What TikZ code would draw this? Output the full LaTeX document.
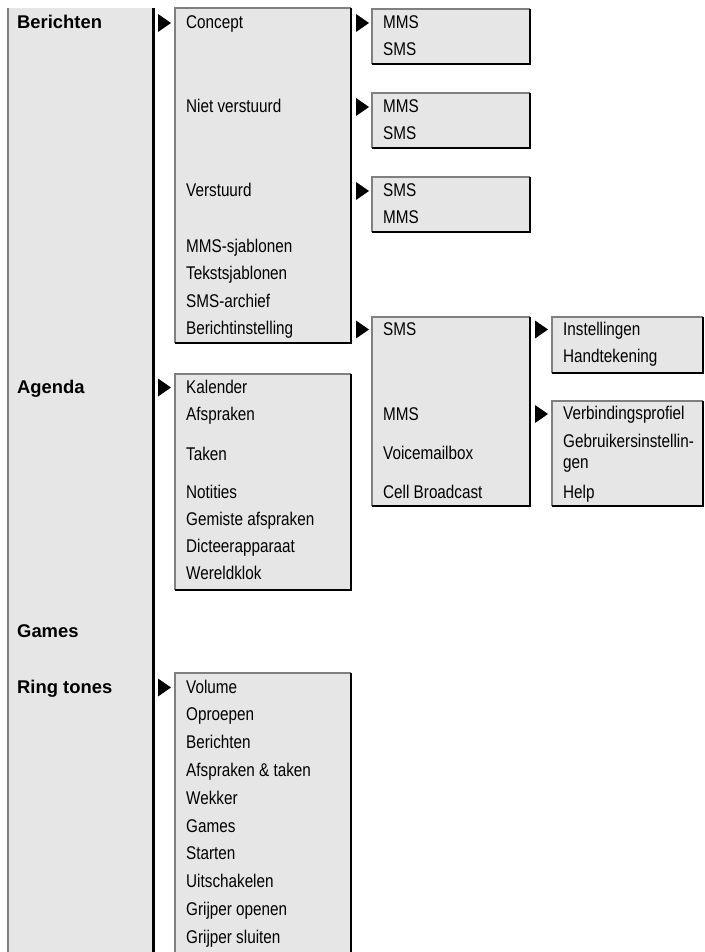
\documentclass[tikz,border=0pt]{standalone}
\usepackage{fontspec}
\setmainfont{Liberation Sans}
\newfontfamily\narrowfam[FakeStretch=0.83]{Liberation Sans}
\newfontfamily\boldfam{Liberation Sans Bold}
\definecolor{boxfill}{RGB}{230,230,230}
\definecolor{edgegray}{RGB}{128,128,128}
\newcommand\mboxdraw[4]{%
  \fill[boxfill] (#1,#2) rectangle (#3,#4);
  \draw[edgegray,line width=1.3] (#1,#4) -- (#1,#2) -- (#3,#2);
  \draw[black,line width=2.4] (#3,#2) -- (#3,#4) -- (#1,#4);}
\newcommand\mboxopen[4]{%
  \fill[boxfill] (#1,#2) rectangle (#3,#4);
  \draw[edgegray,line width=1.3] (#1,#4) -- (#1,#2) -- (#3,#2);
  \draw[black,line width=2.4] (#3,#2) -- (#3,#4);}
\newcommand\mtri[2]{\fill[black] (#1,#2-14.5) -- (#1+13,#2-5.5) -- (#1,#2+3.5) -- cycle;}
\begin{document}
\begin{tikzpicture}[x=1pt,y=-1pt,
  itm/.style={anchor=base west,inner sep=0pt,font=\narrowfam\fontsize{18.4}{22}\selectfont},
  hd/.style={anchor=base west,inner sep=0pt,font=\boldfam\fontsize{18.4}{22}\selectfont}]
\useasboundingbox[fill=white] (0,0) rectangle (704,952);
% column 1
\fill[boxfill] (8,8) rectangle (153.5,952);
\draw[edgegray,line width=1.3] (8,952) -- (8,8);
\draw[black,line width=2.4] (153.5,8) -- (153.5,952);
\node[hd] (berichten) at (17,28.5) {Berichten};
\node[hd] (agenda) at (17,393) {Agenda};
\node[hd] (games) at (17,637) {Games};
\node[hd] (ringtones) at (17,693) {Ring tones};
% column 2
\mboxdraw{175}{8}{351}{343}
\mboxdraw{175}{374}{351}{590}
\mboxopen{175}{673}{351}{952}
\mtri{158}{28.5}
\mtri{158}{393}
\mtri{158}{693}
\node[itm] (concept) at (186,28.5) {Concept};
\node[itm] (niet) at (186,112.5) {Niet verstuurd};
\node[itm] (verst) at (186,196.5) {Verstuurd};
\node[itm] (mmssj) at (186,252) {MMS-sjablonen};
\node[itm] (tekst) at (186,279.5) {Tekstsjablonen};
\node[itm] (smsarch) at (186,307) {SMS-archief};
\node[itm] (berinst) at (186,334.5) {Berichtinstelling};
\node[itm] (kal) at (186,393) {Kalender};
\node[itm] (afspr) at (186,420) {Afspraken};
\node[itm] (taken) at (186,460) {Taken};
\node[itm] (notities) at (186,498) {Notities};
\node[itm] (gemiste) at (186,525) {Gemiste afspraken};
\node[itm] (dicteer) at (186,552) {Dicteerapparaat};
\node[itm] (wereld) at (186,579) {Wereldklok};
\node[itm] (volume) at (186,693) {Volume};
\node[itm] (oproepen) at (186,720.8) {Oproepen};
\node[itm] (rberichten) at (186,748.6) {Berichten};
\node[itm] (afsptak) at (186,776.4) {Afspraken \& taken};
\node[itm] (wekker) at (186,804.2) {Wekker};
\node[itm] (rgames) at (186,832) {Games};
\node[itm] (starten) at (186,859.8) {Starten};
\node[itm] (uitsch) at (186,887.6) {Uitschakelen};
\node[itm] (gropen) at (186,915.4) {Grijper openen};
\node[itm] (grsluit) at (186,943.2) {Grijper sluiten};
% column 3
\mboxdraw{372}{9}{530}{64}
\mboxdraw{372}{93}{530}{148}
\mboxdraw{372}{177}{530}{232}
\mboxdraw{372}{317}{530}{506}
\mtri{356}{28.5}
\mtri{356}{112.5}
\mtri{356}{196.5}
\mtri{356}{335}
\node[itm] (cmms) at (383,28.5) {MMS};
\node[itm] (csms) at (383,55.5) {SMS};
\node[itm] (nmms) at (383,112.5) {MMS};
\node[itm] (nsms) at (383,139.5) {SMS};
\node[itm] (vsms) at (383,196.5) {SMS};
\node[itm] (vmms) at (383,223.5) {MMS};
\node[itm] (bsms) at (383,335) {SMS};
\node[itm] (bmms) at (383,420) {MMS};
\node[itm] (voice) at (383,459) {Voicemailbox};
\node[itm] (cell) at (383,498) {Cell Broadcast};
% column 4
\mboxdraw{552}{317}{702.8}{373}
\mboxdraw{552}{401}{702.8}{506}
\mtri{535}{335}
\mtri{535}{419.5}
\node[itm] (instel) at (563,335) {Instellingen};
\node[itm] (handt) at (563,362.5) {Handtekening};
\node[itm] (verbind) at (563,419.5) {Verbindingsprofiel};
\node[itm] (gebr1) at (563,447.5) {Gebruikersinstellin-};
\node[itm] (gebr2) at (563,468) {gen};
\node[itm] (help) at (563,498) {Help};
\end{tikzpicture}
\end{document}
